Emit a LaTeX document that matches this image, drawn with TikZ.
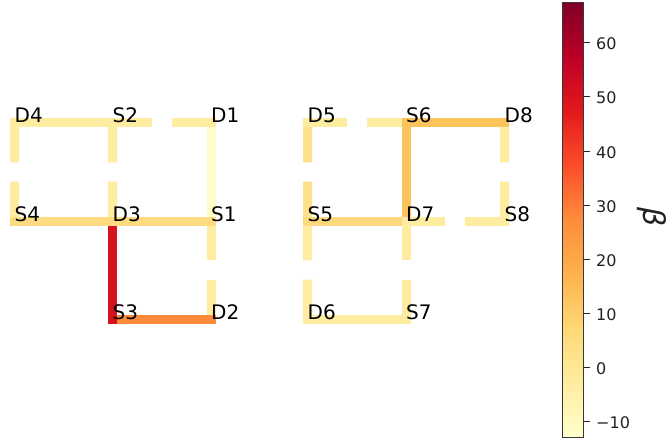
\documentclass[tikz,border=0pt]{standalone}
\usepackage{fontspec}
\setmainfont{DejaVu Sans}
\usetikzlibrary{calc}
\definecolor{yl0}{HTML}{FFFFCC}
\definecolor{yl1}{HTML}{FFEDA0}
\definecolor{yl2}{HTML}{FED976}
\definecolor{yl3}{HTML}{FEB24C}
\definecolor{yl4}{HTML}{FD8D3C}
\definecolor{yl5}{HTML}{FC4E2A}
\definecolor{yl6}{HTML}{E31A1C}
\definecolor{yl7}{HTML}{BD0026}
\definecolor{yl8}{HTML}{800026}
\definecolor{cLight}{HTML}{FEECA0}
\definecolor{cPale}{HTML}{FFFDC8}
\definecolor{cMid}{HTML}{FEDB80}
\definecolor{cMidB}{HTML}{FED87C}
\definecolor{cDp}{HTML}{FEE08A}
\definecolor{cOrY}{HTML}{FEC45C}
\definecolor{cOr}{HTML}{FD8A3A}
\definecolor{cRed}{HTML}{D5131F}
\definecolor{txt}{HTML}{222222}
\pgfdeclareverticalshading{ylorrd}{100bp}{color(0bp)=(yl0); color(25bp)=(yl0); color(31.25bp)=(yl1); color(37.5bp)=(yl2); color(43.75bp)=(yl3); color(50bp)=(yl4); color(56.25bp)=(yl5); color(62.5bp)=(yl6); color(68.75bp)=(yl7); color(75bp)=(yl8); color(100bp)=(yl8)}
\newcommand{\brkedge}[3]{%
  \draw[edge,#3] (#1) -- ($(#1)!.355!(#2)$);
  \draw[edge,#3] (#2) -- ($(#2)!.355!(#1)$);}
\begin{document}
\begin{tikzpicture}[x=1pt,y=-1pt,
  edge/.style={line width=9pt, line cap=rect},
  lbl/.style={anchor=base west, inner sep=0pt, font=\fontsize{20}{20}\selectfont, text=black},
  ticklbl/.style={anchor=west, inner sep=0pt, font=\fontsize{16}{16}\selectfont, text=txt},
  tickmark/.style={draw=txt, line width=1pt}]
\useasboundingbox (0,0) rectangle (672,441);
% grid points
\coordinate (pD4) at (14.5,123);
\coordinate (pS2) at (112.5,123);
\coordinate (pD1) at (211,123);
\coordinate (pS4) at (14.5,221);
\coordinate (pD3) at (112.5,221);
\coordinate (pS1) at (211,221);
\coordinate (pS3) at (112.5,319);
\coordinate (pD2) at (211,319);
\coordinate (pD5) at (307.5,123);
\coordinate (pS6) at (406,123);
\coordinate (pD8) at (504.5,123);
\coordinate (pS5) at (307.5,221);
\coordinate (pD7) at (406,221);
\coordinate (pS8) at (504.5,221);
\coordinate (pD6) at (307.5,319);
\coordinate (pS7) at (406,319);
% vertical edges
\draw[edge,cPale] (pD1) -- (pS1);
\brkedge{pD4}{pS4}{cLight}
\brkedge{pS2}{pD3}{cLight}
\brkedge{pS1}{pD2}{cLight}
\draw[edge,cOrY] (pS6) -- (pD7);
\brkedge{pD5}{pS5}{cDp}
\brkedge{pD8}{pS8}{cLight}
\brkedge{pS5}{pD6}{cLight}
\brkedge{pD7}{pS7}{cLight}
% horizontal edges
\draw[edge,cOr] (pS3) -- (pD2);
\draw[edge,cRed] (pD3) -- (pS3);
\draw[edge,cLight] (pD4) -- (pS2);
\brkedge{pS2}{pD1}{cLight}
\draw[edge,cMid] (pS4) -- (pD3);
\draw[edge,cMid] (pD3) -- (pS1);
\brkedge{pD5}{pS6}{cLight}
\draw[edge,cOrY] (pS6) -- (pD8);
\draw[edge,cMidB] (pS5) -- (pD7);
\brkedge{pD7}{pS8}{cLight}
\draw[edge,cLight] (pD6) -- (pS7);
% labels
\foreach \n in {D4,S2,D1,S4,D3,S1,S3,D2,D5,S6,D8,S5,D7,S8,D6,S7}
  \node[lbl] (\n) at (p\n) {\n};
% colorbar
\shade[shading=ylorrd] (562,3) rectangle (583.5,437);
\draw[draw=txt!90!white, line width=1pt] (562,3) rectangle (583.5,437);
\foreach \v/\t in {60/60,50/50,40/40,30/30,20/20,10/10,0/0,-10/−10} {
  \draw[tickmark] (583.5,{367.6-5.414*\v}) -- (590,{367.6-5.414*\v});
  \node[ticklbl] (tick\v) at (596,{368.8-5.414*\v}) {\t};
}
\node[rotate=-90, inner sep=0pt, font=\fontsize{30}{30}\selectfont\itshape, text=txt] (beta) at (652,217) {β};
\end{tikzpicture}
\end{document}
